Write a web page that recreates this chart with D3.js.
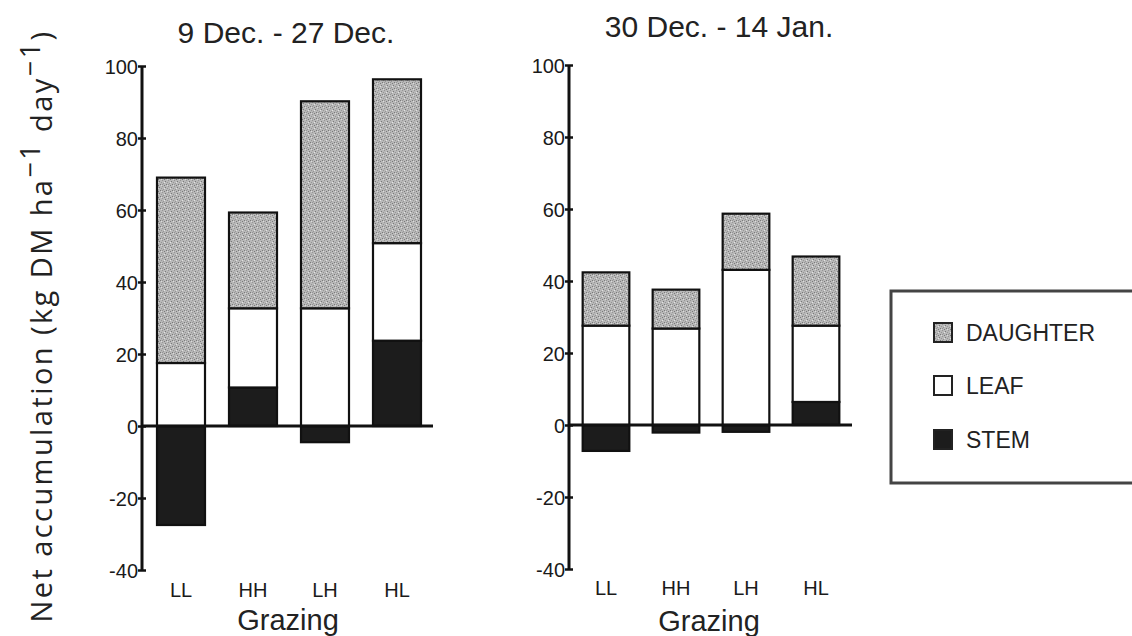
<!DOCTYPE html>
<html><head><meta charset="utf-8">
<script src="https://cdn.jsdelivr.net/npm/d3@7"></script>
<style>body{margin:0;background:#fff}svg{display:block}</style>
</head><body>
<svg id="c" width="1132" height="636"></svg>
<script>
const categories = ["LL","HH","LH","HL"];
const seriesKeys = ["stem","leaf","daughter"];
const legendLabels = ["DAUGHTER","LEAF","STEM"];
const yTicks = [-40,-20,0,20,40,60,80,100];
const titles = ["9 Dec. - 27 Dec.","30 Dec. - 14 Jan."];
// period 1
const stem1 = [-27.5, 10.7, -4.5, 23.7];
const leaf1 = [17.5, 22.0, 32.7, 27.1];
const daughter1 = [51.5, 26.6, 57.5, 45.5];
// period 2
const stem2 = [-7.2, -2.1, -1.9, 6.4];
const leaf2 = [27.6, 26.8, 43.1, 21.2];
const daughter2 = [14.8, 10.8, 15.6, 19.2];

const svg = d3.select("#c");
const FONT = "'Liberation Sans', Arial, Helvetica, sans-serif";

// stipple pattern
const defs = svg.append("defs");
const pat = defs.append("pattern").attr("id","stip").attr("patternUnits","userSpaceOnUse")
  .attr("width",6).attr("height",6);
pat.append("rect").attr("width",6).attr("height",6).attr("fill","#b8b8b8");
[[0,0],[3,1],[1,3],[4,4],[5,2],[2,5],[0,4]].forEach(([x,y],i)=>{
  pat.append("rect").attr("x",x).attr("y",y).attr("width",1).attr("height",1)
    .attr("fill", i%2? "#7a7a7a":"#959595");
});
pat.append("rect").attr("x",2).attr("y",2).attr("width",1).attr("height",1).attr("fill","#e4e4e4");
pat.append("rect").attr("x",5).attr("y",5).attr("width",1).attr("height",1).attr("fill","#dcdcdc");

const fills = {stem:"#1c1c1c", leaf:"#ffffff", daughter:"url(#stip)"};

function panel(cfg){
  const {axisX, yTop, yBot, bandRange, zeroEnd, stem, leaf, daughter, title, titleX, titleY, catY, grazX, grazY} = cfg;
  const y = d3.scaleLinear().domain([-40,100]).range([yBot, yTop]);
  const x = d3.scaleBand().domain(categories).range(bandRange).paddingInner(1/3).paddingOuter(1/6);
  const rows = categories.map((c,i)=>({cat:c, stem:stem[i], leaf:leaf[i], daughter:daughter[i]}));
  const stacked = d3.stack().keys(seriesKeys).offset(d3.stackOffsetDiverging)(rows);
  const g = svg.append("g");
  stacked.forEach(layer=>{
    g.selectAll(null).data(layer).join("rect")
      .attr("x", d=>x(d.data.cat))
      .attr("width", x.bandwidth())
      .attr("y", d=>y(Math.max(d[0],d[1])))
      .attr("height", d=>Math.abs(y(d[0])-y(d[1])))
      .attr("fill", fills[layer.key])
      .attr("stroke","#111").attr("stroke-width",2.2);
  });
  // zero line
  g.append("line").attr("x1",axisX).attr("x2",zeroEnd).attr("y1",y(0)).attr("y2",y(0))
    .attr("stroke","#111").attr("stroke-width",3);
  // y axis
  const ax = g.append("g").attr("transform",`translate(${axisX},0)`)
    .call(d3.axisLeft(y).tickValues(yTicks).tickFormat(d=>String(d)).tickSize(4).tickPadding(4));
  ax.attr("font-size",null).attr("font-family",null);
  ax.select(".domain").attr("stroke","#111").attr("stroke-width",3).attr("d",`M0,${yTop}V${yBot}`);
  ax.selectAll(".tick line").attr("x1",-4).attr("x2",4).attr("stroke","#111").attr("stroke-width",2.5);
  ax.selectAll(".tick text").attr("font-family",FONT).attr("font-size",20).attr("fill","#1a1a1a")
    .attr("x",-4).attr("dy","0.36em");
  // categories
  g.selectAll(null).data(categories).join("text")
    .attr("x", d=>x(d)+x.bandwidth()/2).attr("y",catY)
    .attr("text-anchor","middle").attr("font-family",FONT).attr("font-size",20).attr("fill","#1a1a1a")
    .text(d=>d);
  g.append("text").attr("x",grazX).attr("y",grazY).attr("text-anchor","middle")
    .attr("font-family",FONT).attr("font-size",29).attr("fill","#222").text("Grazing");
  g.append("text").attr("x",titleX).attr("y",titleY).attr("text-anchor","middle")
    .attr("font-family",FONT).attr("font-size",30).attr("fill","#222").text(title);
}

panel({axisX:142, yTop:66, yBot:570, bandRange:[145,433], zeroEnd:433,
  stem:stem1, leaf:leaf1, daughter:daughter1, title:titles[0], titleX:286, titleY:43,
  catY:597, grazX:288, grazY:630});
panel({axisX:569, yTop:65, yBot:569, bandRange:[571,851], zeroEnd:852,
  stem:stem2, leaf:leaf2, daughter:daughter2, title:titles[1], titleX:719, titleY:37,
  catY:595, grazX:709, grazY:631});

// y label
const yl = svg.append("text").attr("transform","translate(52,326) rotate(-90)")
  .attr("text-anchor","middle").attr("font-family","'Open Sans', 'DejaVu Sans', sans-serif")
  .attr("font-size",29).attr("fill","#222");
yl.append("tspan").text("Net accumulation (kg DM ha");
yl.append("tspan").attr("dy",-12).attr("font-size",27).text("\u22121");
yl.append("tspan").attr("dy",12).text(" day");
yl.append("tspan").attr("dy",-12).attr("font-size",27).text("\u22121");
yl.append("tspan").attr("dy",12).text(")");
// stretch letter spacing so the label spans the same length as the original
const nChars = "Net accumulation (kg DM ha\u22121 day\u22121)".length;
const len0 = yl.node().getComputedTextLength();
yl.attr("letter-spacing", Math.max(0, (593 - len0) / nChars));

// legend
const lg = svg.append("g");
lg.append("rect").attr("x",891).attr("y",291).attr("width",260).attr("height",192)
  .attr("fill","#fff").attr("stroke","#444").attr("stroke-width",3);
const legendFills = ["url(#stip)","#ffffff","#1c1c1c"];
const legendY = [323,376,430];
legendLabels.forEach((lab,i)=>{
  lg.append("rect").attr("x",934).attr("y",legendY[i]).attr("width",18).attr("height",19)
    .attr("fill",legendFills[i]).attr("stroke","#222").attr("stroke-width",2);
  lg.append("text").attr("x",966).attr("y",legendY[i]+18).attr("font-family",FONT)
    .attr("font-size",23).attr("fill","#222").text(lab);
});
</script>
</body></html>
